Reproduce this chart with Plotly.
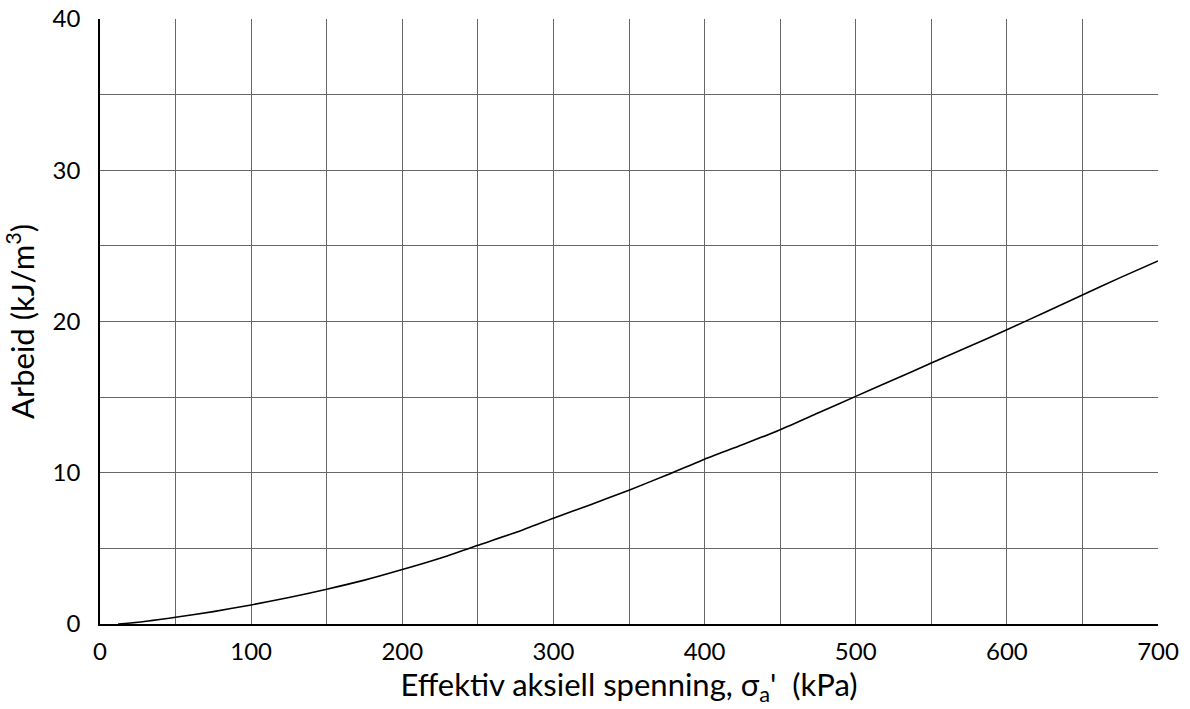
import plotly.graph_objects as go

# Effective axial stress (kPa) and accumulated work (kJ/m^3)
stress_kpa = [12, 25, 50, 75, 100, 125, 150, 175, 200, 225, 250, 275, 300, 325,
              350, 375, 400, 425, 450, 475, 500, 525, 550, 575, 600, 625, 650, 675, 700]
work_kj_m3 = [0.0, 0.12, 0.45, 0.82, 1.26, 1.75, 2.3, 2.9, 3.6, 4.35, 5.2, 6.05, 7.0, 7.9,
              8.85, 9.85, 10.9, 11.85, 12.85, 13.95, 15.05, 16.15, 17.25, 18.35, 19.45,
              20.6, 21.75, 22.9, 24.0]

x_ticks = [0, 100, 200, 300, 400, 500, 600, 700]
y_ticks = [0, 10, 20, 30, 40]

fig = go.Figure(go.Scatter(
    x=stress_kpa, y=work_kj_m3, mode="lines",
    line=dict(color="black", width=1.6, shape="spline", smoothing=0.6),
    showlegend=False,
))

grid_color = "#666666"
font_family = "Lato, 'Open Sans', sans-serif"

fig.update_layout(
    width=1190, height=709,
    margin=dict(l=100, r=32, t=19, b=85),
    paper_bgcolor="white", plot_bgcolor="white",
    font=dict(family=font_family, size=24, color="black"),
    xaxis=dict(
        range=[0, 700], tickvals=x_ticks, ticks="", showgrid=True,
        gridcolor=grid_color, gridwidth=1,
        minor=dict(dtick=50, showgrid=True, gridcolor=grid_color, gridwidth=1),
        showline=True, linecolor="black", linewidth=1.5, zeroline=False,
        automargin=False, ticklabelstandoff=5,
        title=dict(text="Effektiv aksiell spenning, σ<sub>a</sub>'\u00a0\u00a0(kPa)",
                   font=dict(size=31), standoff=6),
        tickfont=dict(size=24),
    ),
    yaxis=dict(
        range=[0, 40], tickvals=y_ticks, ticks="", showgrid=True,
        gridcolor=grid_color, gridwidth=1,
        minor=dict(dtick=5, showgrid=True, gridcolor=grid_color, gridwidth=1),
        showline=True, linecolor="black", linewidth=1.5, zeroline=False,
        automargin=False, ticklabelstandoff=13,
        title=dict(text="Arbeid (kJ/m<sup>3</sup>)", font=dict(size=31), standoff=14),
        tickfont=dict(size=24),
    ),
)

fig.write_html("out.html")
